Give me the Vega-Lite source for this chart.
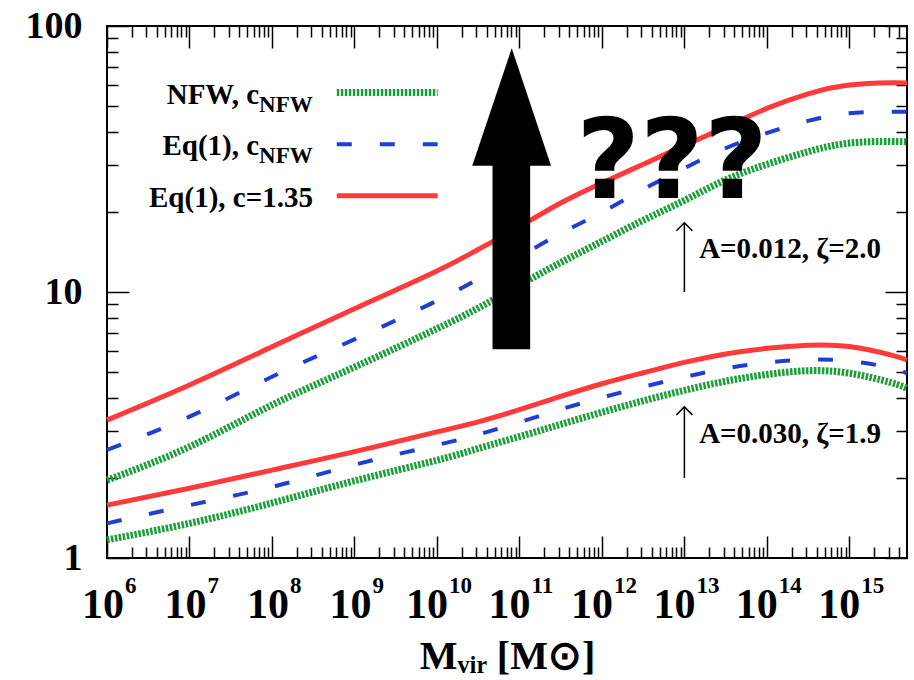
{
  "$schema": "https://vega.github.io/schema/vega-lite/v6.json",
  "width": 800,
  "height": 532,
  "autosize": {"type": "none"},
  "padding": {"left": 107, "top": 26, "right": 7, "bottom": 122},
  "background": "white",
  "config": {
    "view": {"stroke": "black", "strokeWidth": 2},
    "axis": {"domain": false, "grid": false, "tickColor": "black", "tickWidth": 1.5, "labelColor": "black", "titleColor": "black"}
  },
  "datasets": {
    "curves": [
      {"m": 1e6, "c": 1.96, "model": "NFW", "set": "A"}, {"m": 1e7, "c": 2.62, "model": "NFW", "set": "A"}, {"m": 1e8, "c": 3.76, "model": "NFW", "set": "A"}, {"m": 1e9, "c": 5.22, "model": "NFW", "set": "A"}, {"m": 1e10, "c": 7.28, "model": "NFW", "set": "A"}, {"m": 3.162e10, "c": 8.7, "model": "NFW", "set": "A"}, {"m": 1e11, "c": 10.6, "model": "NFW", "set": "A"}, {"m": 3.162e11, "c": 12.9, "model": "NFW", "set": "A"}, {"m": 1e12, "c": 15.5, "model": "NFW", "set": "A"}, {"m": 3.162e12, "c": 18.6, "model": "NFW", "set": "A"}, {"m": 1e13, "c": 22.1, "model": "NFW", "set": "A"}, {"m": 3.162e13, "c": 26.4, "model": "NFW", "set": "A"}, {"m": 1e14, "c": 30.2, "model": "NFW", "set": "A"}, {"m": 3.162e14, "c": 33.7, "model": "NFW", "set": "A"}, {"m": 1e15, "c": 36.3, "model": "NFW", "set": "A"}, {"m": 3.162e15, "c": 36.8, "model": "NFW", "set": "A"}, {"m": 5e15, "c": 36.7, "model": "NFW", "set": "A"},
      {"m": 1e6, "c": 2.55, "model": "Eq1", "set": "A"}, {"m": 1e7, "c": 3.40, "model": "Eq1", "set": "A"}, {"m": 1e8, "c": 4.80, "model": "Eq1", "set": "A"}, {"m": 1e9, "c": 6.64, "model": "Eq1", "set": "A"}, {"m": 1e10, "c": 9.27, "model": "Eq1", "set": "A"}, {"m": 3.162e10, "c": 11.2, "model": "Eq1", "set": "A"}, {"m": 1e11, "c": 13.6, "model": "Eq1", "set": "A"}, {"m": 3.162e11, "c": 16.6, "model": "Eq1", "set": "A"}, {"m": 1e12, "c": 19.95, "model": "Eq1", "set": "A"}, {"m": 3.162e12, "c": 24.3, "model": "Eq1", "set": "A"}, {"m": 1e13, "c": 29.2, "model": "Eq1", "set": "A"}, {"m": 3.162e13, "c": 34.7, "model": "Eq1", "set": "A"}, {"m": 1e14, "c": 39.6, "model": "Eq1", "set": "A"}, {"m": 3.162e14, "c": 44.0, "model": "Eq1", "set": "A"}, {"m": 1e15, "c": 47.0, "model": "Eq1", "set": "A"}, {"m": 3.162e15, "c": 47.6, "model": "Eq1", "set": "A"}, {"m": 5e15, "c": 47.6, "model": "Eq1", "set": "A"},
      {"m": 1e6, "c": 3.30, "model": "Eq1c", "set": "A"}, {"m": 1e7, "c": 4.47, "model": "Eq1c", "set": "A"}, {"m": 1e8, "c": 6.22, "model": "Eq1c", "set": "A"}, {"m": 1e9, "c": 8.65, "model": "Eq1c", "set": "A"}, {"m": 1e10, "c": 12.0, "model": "Eq1c", "set": "A"}, {"m": 3.162e10, "c": 14.45, "model": "Eq1c", "set": "A"}, {"m": 1e11, "c": 17.6, "model": "Eq1c", "set": "A"}, {"m": 3.162e11, "c": 21.6, "model": "Eq1c", "set": "A"}, {"m": 1e12, "c": 25.7, "model": "Eq1c", "set": "A"}, {"m": 3.162e12, "c": 30.2, "model": "Eq1c", "set": "A"}, {"m": 1e13, "c": 35.5, "model": "Eq1c", "set": "A"}, {"m": 3.162e13, "c": 41.7, "model": "Eq1c", "set": "A"}, {"m": 1e14, "c": 49.0, "model": "Eq1c", "set": "A"}, {"m": 3.162e14, "c": 55.6, "model": "Eq1c", "set": "A"}, {"m": 1e15, "c": 60.0, "model": "Eq1c", "set": "A"}, {"m": 3.162e15, "c": 61.2, "model": "Eq1c", "set": "A"}, {"m": 5e15, "c": 61.1, "model": "Eq1c", "set": "A"},
      {"m": 1e6, "c": 1.17, "model": "NFW", "set": "B"}, {"m": 1e7, "c": 1.35, "model": "NFW", "set": "B"}, {"m": 1e8, "c": 1.61, "model": "NFW", "set": "B"}, {"m": 1e9, "c": 1.95, "model": "NFW", "set": "B"}, {"m": 1e10, "c": 2.33, "model": "NFW", "set": "B"}, {"m": 3.162e10, "c": 2.58, "model": "NFW", "set": "B"}, {"m": 1e11, "c": 2.86, "model": "NFW", "set": "B"}, {"m": 3.162e11, "c": 3.18, "model": "NFW", "set": "B"}, {"m": 1e12, "c": 3.53, "model": "NFW", "set": "B"}, {"m": 3.162e12, "c": 3.90, "model": "NFW", "set": "B"}, {"m": 1e13, "c": 4.27, "model": "NFW", "set": "B"}, {"m": 3.162e13, "c": 4.62, "model": "NFW", "set": "B"}, {"m": 1e14, "c": 4.90, "model": "NFW", "set": "B"}, {"m": 3.162e14, "c": 5.06, "model": "NFW", "set": "B"}, {"m": 1e15, "c": 4.95, "model": "NFW", "set": "B"}, {"m": 3.162e15, "c": 4.57, "model": "NFW", "set": "B"}, {"m": 5e15, "c": 4.35, "model": "NFW", "set": "B"},
      {"m": 1e6, "c": 1.35, "model": "Eq1", "set": "B"}, {"m": 1e7, "c": 1.58, "model": "Eq1", "set": "B"}, {"m": 1e8, "c": 1.85, "model": "Eq1", "set": "B"}, {"m": 1e9, "c": 2.24, "model": "Eq1", "set": "B"}, {"m": 1e10, "c": 2.66, "model": "Eq1", "set": "B"}, {"m": 3.162e10, "c": 2.91, "model": "Eq1", "set": "B"}, {"m": 1e11, "c": 3.24, "model": "Eq1", "set": "B"}, {"m": 3.162e11, "c": 3.62, "model": "Eq1", "set": "B"}, {"m": 1e12, "c": 4.01, "model": "Eq1", "set": "B"}, {"m": 3.162e12, "c": 4.40, "model": "Eq1", "set": "B"}, {"m": 1e13, "c": 4.79, "model": "Eq1", "set": "B"}, {"m": 3.162e13, "c": 5.16, "model": "Eq1", "set": "B"}, {"m": 1e14, "c": 5.43, "model": "Eq1", "set": "B"}, {"m": 3.162e14, "c": 5.57, "model": "Eq1", "set": "B"}, {"m": 1e15, "c": 5.50, "model": "Eq1", "set": "B"}, {"m": 3.162e15, "c": 5.19, "model": "Eq1", "set": "B"}, {"m": 5e15, "c": 4.94, "model": "Eq1", "set": "B"},
      {"m": 1e6, "c": 1.58, "model": "Eq1c", "set": "B"}, {"m": 1e7, "c": 1.83, "model": "Eq1c", "set": "B"}, {"m": 1e8, "c": 2.14, "model": "Eq1c", "set": "B"}, {"m": 1e9, "c": 2.51, "model": "Eq1c", "set": "B"}, {"m": 1e10, "c": 2.98, "model": "Eq1c", "set": "B"}, {"m": 3.162e10, "c": 3.25, "model": "Eq1c", "set": "B"}, {"m": 1e11, "c": 3.61, "model": "Eq1c", "set": "B"}, {"m": 3.162e11, "c": 4.05, "model": "Eq1c", "set": "B"}, {"m": 1e12, "c": 4.52, "model": "Eq1c", "set": "B"}, {"m": 3.162e12, "c": 4.97, "model": "Eq1c", "set": "B"}, {"m": 1e13, "c": 5.44, "model": "Eq1c", "set": "B"}, {"m": 3.162e13, "c": 5.85, "model": "Eq1c", "set": "B"}, {"m": 1e14, "c": 6.14, "model": "Eq1c", "set": "B"}, {"m": 3.162e14, "c": 6.31, "model": "Eq1c", "set": "B"}, {"m": 1e15, "c": 6.24, "model": "Eq1c", "set": "B"}, {"m": 3.162e15, "c": 5.80, "model": "Eq1c", "set": "B"}, {"m": 5e15, "c": 5.55, "model": "Eq1c", "set": "B"}
    ],
    "legendLines": [
      {"model": "NFW", "x1": 6.11e8, "x2": 1.02e10, "y": 56.2},
      {"model": "Eq1", "x1": 6.11e8, "x2": 1.02e10, "y": 35.9},
      {"model": "Eq1c", "x1": 6.11e8, "x2": 1.02e10, "y": 23.0}
    ],
    "legendText": [
      {"t": "NFW, c", "x": 6.98e7, "y": 50.9},
      {"t": "Eq(1), c", "x": 6.98e7, "y": 32.7},
      {"t": "Eq(1), c=1.35", "x": 3.14e8, "y": 20.9}
    ],
    "legendSub": [
      {"t": "NFW", "x": 6.98e7, "y": 50.9},
      {"t": "NFW", "x": 6.98e7, "y": 32.7}
    ],
    "notes": [
      {"t": "A=0.012, ζ=2.0", "x": 1.51e13, "y": 13.4},
      {"t": "A=0.030, ζ=1.9", "x": 1.51e13, "y": 2.70}
    ],
    "thinArrows": [
      {"x": 1e13, "from": 10.0, "tip": 18.2},
      {"x": 1e13, "from": 2.0, "tip": 3.7}
    ],
    "bigHead": [
      {"x": 2.68e10, "top": 29.8, "base": 29.8},
      {"x": 8.07e10, "top": 82.5, "base": 29.8},
      {"x": 2.42e11, "top": 29.8, "base": 29.8}
    ],
    "bigShaft": [
      {"x1": 4.72e10, "x2": 1.35e11, "y1": 6.09, "y2": 30.3}
    ],
    "question": [
      {"t": "???", "x": 7.08e12, "y": 22.6}
    ]
  },
  "layer": [
    {
      "data": {"name": "curves"},
      "transform": [{"filter": "datum.model === 'NFW'"}],
      "mark": {"type": "line", "color": "#1c9e3a", "strokeWidth": 7, "strokeDash": [2.5, 1.5], "strokeCap": "butt", "interpolate": "natural"},
      "encoding": {
        "x": {"field": "m", "type": "quantitative", "scale": {"type": "log", "domain": [1e6, 5e15], "nice": false},
          "axis": {"orient": "bottom", "values": [1e6, 1e7, 1e8, 1e9, 1e10, 1e11, 1e12, 1e13, 1e14, 1e15], "ticks": false, "labelExpr": "'10'", "labelAlign": "right", "labelBaseline": "alphabetic", "labelFont": "Liberation Serif", "labelFontWeight": "bold", "labelFontSize": 42, "labelPadding": 59, "labelFlush": false, "labelOverlap": false,
            "labelOffset": {"condition": {"test": "datum.value >= 1e10", "value": 10.5}, "value": 16.5},
            "title": "Mᵥᵢᵣ [M⊙]", "titleFont": "Liberation Serif", "titleFontWeight": "bold", "titleFontSize": 40, "titlePadding": 11}},
        "y": {"field": "c", "type": "quantitative", "scale": {"type": "log", "domain": [1, 100], "nice": false},
          "axis": {"orient": "left", "values": [1, 10, 100], "ticks": false, "labelExpr": "format(datum.value, 'd')", "labelFont": "Liberation Serif", "labelFontWeight": "bold", "labelFontSize": 38, "labelPadding": 25, "labelFlush": false, "labelOverlap": false, "title": null}},
        "detail": {"field": "set"}
      }
    },
    {
      "data": {"name": "curves"},
      "transform": [{"filter": "datum.model === 'Eq1'"}],
      "mark": {"type": "line", "color": "#1f3fd2", "strokeWidth": 4, "strokeDash": [15, 28], "interpolate": "natural"},
      "encoding": {
        "x": {"field": "m", "type": "quantitative", "scale": {"type": "log", "domain": [1e6, 5e15], "nice": false},
          "axis": {"orient": "bottom", "values": [1e6, 1e7, 1e8, 1e9, 1e10, 1e11, 1e12, 1e13, 1e14, 1e15], "labels": false, "tickSize": -22, "title": null}},
        "y": {"field": "c", "type": "quantitative", "scale": {"type": "log", "domain": [1, 100], "nice": false},
          "axis": {"orient": "left", "values": [1, 10, 100], "labels": false, "tickSize": -22, "title": null}},
        "detail": {"field": "set"}
      }
    },
    {
      "data": {"name": "curves"},
      "transform": [{"filter": "datum.model === 'Eq1c'"}],
      "mark": {"type": "line", "color": "#ff3a3a", "strokeWidth": 5, "interpolate": "natural"},
      "encoding": {
        "x": {"field": "m", "type": "quantitative", "scale": {"type": "log", "domain": [1e6, 5e15], "nice": false},
          "axis": {"orient": "bottom", "values": [2e6,3e6,4e6,5e6,6e6,7e6,8e6,9e6,2e7,3e7,4e7,5e7,6e7,7e7,8e7,9e7,2e8,3e8,4e8,5e8,6e8,7e8,8e8,9e8,2e9,3e9,4e9,5e9,6e9,7e9,8e9,9e9,2e10,3e10,4e10,5e10,6e10,7e10,8e10,9e10,2e11,3e11,4e11,5e11,6e11,7e11,8e11,9e11,2e12,3e12,4e12,5e12,6e12,7e12,8e12,9e12,2e13,3e13,4e13,5e13,6e13,7e13,8e13,9e13,2e14,3e14,4e14,5e14,6e14,7e14,8e14,9e14,2e15,3e15,4e15], "labels": false, "tickSize": -11, "title": null}},
        "y": {"field": "c", "type": "quantitative", "scale": {"type": "log", "domain": [1, 100], "nice": false},
          "axis": {"orient": "left", "values": [2,3,4,5,6,7,8,9,20,30,40,50,60,70,80,90], "labels": false, "tickSize": -11, "title": null}},
        "detail": {"field": "set"}
      }
    },
    {
      "data": {"name": "legendText"},
      "mark": {"type": "text", "align": "right", "baseline": "alphabetic", "font": "Liberation Serif", "fontWeight": "bold", "fontSize": 29, "color": "black"},
      "encoding": {
        "x": {"field": "x", "type": "quantitative", "scale": {"type": "log", "domain": [1e6, 5e15], "nice": false},
          "axis": {"orient": "top", "values": [1e6, 1e7, 1e8, 1e9, 1e10, 1e11, 1e12, 1e13, 1e14, 1e15], "labels": false, "tickSize": -22, "title": null}},
        "y": {"field": "y", "type": "quantitative", "scale": {"type": "log", "domain": [1, 100], "nice": false},
          "axis": {"orient": "right", "values": [1, 10, 100], "labels": false, "tickSize": -22, "title": null}},
        "text": {"field": "t"}
      }
    },
    {
      "data": {"name": "legendSub"},
      "mark": {"type": "text", "align": "left", "baseline": "alphabetic", "dy": 8, "font": "Liberation Serif", "fontWeight": "bold", "fontSize": 23, "color": "black"},
      "encoding": {
        "x": {"field": "x", "type": "quantitative", "scale": {"type": "log", "domain": [1e6, 5e15], "nice": false},
          "axis": {"orient": "top", "values": [2e6,3e6,4e6,5e6,6e6,7e6,8e6,9e6,2e7,3e7,4e7,5e7,6e7,7e7,8e7,9e7,2e8,3e8,4e8,5e8,6e8,7e8,8e8,9e8,2e9,3e9,4e9,5e9,6e9,7e9,8e9,9e9,2e10,3e10,4e10,5e10,6e10,7e10,8e10,9e10,2e11,3e11,4e11,5e11,6e11,7e11,8e11,9e11,2e12,3e12,4e12,5e12,6e12,7e12,8e12,9e12,2e13,3e13,4e13,5e13,6e13,7e13,8e13,9e13,2e14,3e14,4e14,5e14,6e14,7e14,8e14,9e14,2e15,3e15,4e15], "labels": false, "tickSize": -11, "title": null}},
        "y": {"field": "y", "type": "quantitative", "scale": {"type": "log", "domain": [1, 100], "nice": false},
          "axis": {"orient": "right", "values": [2,3,4,5,6,7,8,9,20,30,40,50,60,70,80,90], "labels": false, "tickSize": -11, "title": null}},
        "text": {"field": "t"}
      }
    },
    {
      "data": {"name": "legendLines"},
      "transform": [{"filter": "datum.model === 'NFW'"}],
      "mark": {"type": "rule", "color": "#1c9e3a", "strokeWidth": 7, "strokeDash": [2.5, 1.5], "strokeCap": "butt"},
      "encoding": {
        "x": {"field": "x1", "type": "quantitative", "scale": {"type": "log", "domain": [1e6, 5e15], "nice": false},
          "axis": {"orient": "bottom", "values": [1e6, 1e7, 1e8, 1e9, 1e10, 1e11, 1e12, 1e13, 1e14, 1e15], "ticks": false, "labelExpr": "format(round(log(datum.value)/LN10), 'd')", "labelAlign": "left", "labelBaseline": "alphabetic", "labelFont": "Liberation Serif", "labelFontWeight": "bold", "labelFontSize": 23, "labelPadding": 34, "labelFlush": false, "labelOverlap": false,
            "labelOffset": {"condition": {"test": "datum.value >= 1e10", "value": 11.5}, "value": 17.5},
            "title": null}},
        "x2": {"field": "x2"},
        "y": {"field": "y", "type": "quantitative", "scale": {"type": "log", "domain": [1, 100], "nice": false}, "axis": null}
      }
    },
    {
      "data": {"name": "legendLines"},
      "transform": [{"filter": "datum.model === 'Eq1'"}],
      "mark": {"type": "rule", "color": "#1f3fd2", "strokeWidth": 4, "strokeDash": [15, 28]},
      "encoding": {
        "x": {"field": "x1", "type": "quantitative", "scale": {"type": "log", "domain": [1e6, 5e15], "nice": false}, "axis": null},
        "x2": {"field": "x2"},
        "y": {"field": "y", "type": "quantitative", "scale": {"type": "log", "domain": [1, 100], "nice": false}, "axis": null}
      }
    },
    {
      "data": {"name": "legendLines"},
      "transform": [{"filter": "datum.model === 'Eq1c'"}],
      "mark": {"type": "rule", "color": "#ff3a3a", "strokeWidth": 5},
      "encoding": {
        "x": {"field": "x1", "type": "quantitative", "scale": {"type": "log", "domain": [1e6, 5e15], "nice": false}, "axis": null},
        "x2": {"field": "x2"},
        "y": {"field": "y", "type": "quantitative", "scale": {"type": "log", "domain": [1, 100], "nice": false}, "axis": null}
      }
    },
    {
      "data": {"name": "notes"},
      "mark": {"type": "text", "align": "left", "baseline": "alphabetic", "font": "Liberation Serif", "fontWeight": "bold", "fontSize": 29, "color": "black"},
      "encoding": {
        "x": {"field": "x", "type": "quantitative", "scale": {"type": "log", "domain": [1e6, 5e15], "nice": false}, "axis": null},
        "y": {"field": "y", "type": "quantitative", "scale": {"type": "log", "domain": [1, 100], "nice": false}, "axis": null},
        "text": {"field": "t"}
      }
    },
    {
      "data": {"name": "thinArrows"},
      "mark": {"type": "rule", "color": "black", "strokeWidth": 1.5},
      "encoding": {
        "x": {"field": "x", "type": "quantitative", "scale": {"type": "log", "domain": [1e6, 5e15], "nice": false}, "axis": null},
        "y": {"field": "from", "type": "quantitative", "scale": {"type": "log", "domain": [1, 100], "nice": false}, "axis": null},
        "y2": {"field": "tip"}
      }
    },
    {
      "data": {"name": "thinArrows"},
      "mark": {"type": "point", "shape": "M-1,1L0,0L1,1", "size": 256, "filled": false, "stroke": "black", "strokeWidth": 1.5, "opacity": 1},
      "encoding": {
        "x": {"field": "x", "type": "quantitative", "scale": {"type": "log", "domain": [1e6, 5e15], "nice": false}, "axis": null},
        "y": {"field": "tip", "type": "quantitative", "scale": {"type": "log", "domain": [1, 100], "nice": false}, "axis": null}
      }
    },
    {
      "data": {"name": "bigShaft"},
      "mark": {"type": "rect", "color": "black"},
      "encoding": {
        "x": {"field": "x1", "type": "quantitative", "scale": {"type": "log", "domain": [1e6, 5e15], "nice": false}, "axis": null},
        "x2": {"field": "x2"},
        "y": {"field": "y1", "type": "quantitative", "scale": {"type": "log", "domain": [1, 100], "nice": false}, "axis": null},
        "y2": {"field": "y2"}
      }
    },
    {
      "data": {"name": "bigHead"},
      "mark": {"type": "area", "color": "black", "interpolate": "linear"},
      "encoding": {
        "x": {"field": "x", "type": "quantitative", "scale": {"type": "log", "domain": [1e6, 5e15], "nice": false}, "axis": null},
        "y": {"field": "top", "type": "quantitative", "scale": {"type": "log", "domain": [1, 100], "nice": false}, "axis": null},
        "y2": {"field": "base"}
      }
    },
    {
      "data": {"name": "question"},
      "mark": {"type": "text", "align": "center", "baseline": "alphabetic", "font": "DejaVu Sans", "fontWeight": "bold", "fontSize": 110, "color": "black"},
      "encoding": {
        "x": {"field": "x", "type": "quantitative", "scale": {"type": "log", "domain": [1e6, 5e15], "nice": false}, "axis": null},
        "y": {"field": "y", "type": "quantitative", "scale": {"type": "log", "domain": [1, 100], "nice": false}, "axis": null},
        "text": {"field": "t"}
      }
    }
  ],
  "resolve": {"axis": {"x": "independent", "y": "independent"}}
}
